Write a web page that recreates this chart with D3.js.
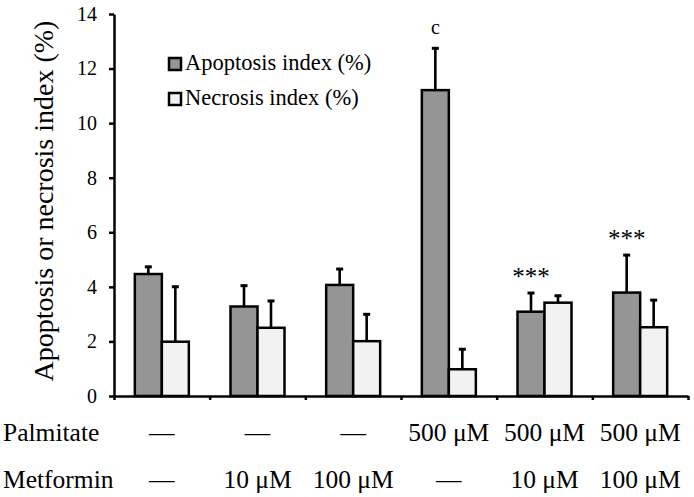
<!DOCTYPE html>
<html>
<head>
<meta charset="utf-8">
<script src="https://cdn.jsdelivr.net/npm/d3@7"></script>
<style>
  body { margin: 0; background: #fff; }
  svg text { font-family: "Liberation Serif", "Times New Roman", serif; fill: #000; }
</style>
</head>
<body>
<div id="svg-container"></div>
<script>
/** Chart data */
const groups = ["g1", "g2", "g3", "g4", "g5", "g6"];
const series = ["Apoptosis index (%)", "Necrosis index (%)"];
const apoptosis = [4.47, 3.28, 4.07, 11.21, 3.09, 3.79];
const apoptosisErr = [0.30, 0.80, 0.62, 1.57, 0.72, 1.41];
const necrosis = [1.99, 2.50, 2.01, 0.98, 3.42, 2.52];
const necrosisErr = [2.05, 1.02, 1.02, 0.77, 0.29, 1.03];
const annotations = ["", "", "", "c", "***", "***"];
const palmitate = ["\u2014", "\u2014", "\u2014", "500 \u03bcM", "500 \u03bcM", "500 \u03bcM"];
const metformin = ["\u2014", "10 \u03bcM", "100 \u03bcM", "\u2014", "10 \u03bcM", "100 \u03bcM"];
const yTicks = [0, 2, 4, 6, 8, 10, 12, 14];

const w = 694, h = 497;
const margin = {top: 14, right: 6, bottom: 101, left: 114};
const width = w - margin.left - margin.right;
const height = h - margin.top - margin.bottom;

const fills = ["#959595", "#f2f2f2"];

const svg = d3.select("#svg-container")
  .append("svg")
  .attr("width", w)
  .attr("height", h);

const g = svg.append("g")
  .attr("transform", "translate(" + margin.left + "," + margin.top + ")");

/** Scales */
const x0 = d3.scaleBand().domain(groups).range([0, width]).padding(0);
const x1 = d3.scaleBand().domain(series).range([0, 54]);
const xb = d3.scaleLinear().domain([0, groups.length]).range([0, width]);
const y = d3.scaleLinear().domain([0, 14]).range([height, 0]);

const rows = groups.map((k, i) => ({
  key: k,
  vals: [
    {s: series[0], v: apoptosis[i], e: apoptosisErr[i], c: fills[0]},
    {s: series[1], v: necrosis[i], e: necrosisErr[i], c: fills[1]}
  ],
  note: annotations[i]
}));

const barX = (gk, s) => x0(gk) + x0.bandwidth() / 2 - 27 + x1(s);

/** Error bars (drawn first so the bar outline sits on top) */
rows.forEach(r => {
  r.vals.forEach(d => {
    const cx = barX(r.key, d.s) + x1.bandwidth() / 2;
    g.append("line")
      .attr("x1", cx).attr("x2", cx)
      .attr("y1", y(d.v)).attr("y2", y(d.v + d.e))
      .attr("stroke", "#000").attr("stroke-width", 2.6);
    g.append("line")
      .attr("x1", cx - 3.5).attr("x2", cx + 3.5)
      .attr("y1", y(d.v + d.e) + 1).attr("y2", y(d.v + d.e) + 1)
      .attr("stroke", "#000").attr("stroke-width", 3);
  });
});

/** Bars */
const grp = g.selectAll("g.grp")
  .data(rows)
  .enter()
  .append("g")
  .attr("class", "grp");

grp.selectAll("rect")
  .data(d => d.vals.map(v => Object.assign({key: d.key}, v)))
  .enter()
  .append("rect")
  .attr("x", d => barX(d.key, d.s))
  .attr("y", d => y(d.v))
  .attr("width", x1.bandwidth())
  .attr("height", d => height - y(d.v))
  .attr("fill", d => d.c)
  .attr("stroke", "#000")
  .attr("stroke-width", 2.5);

/** Significance marks */
rows.forEach(r => {
  if (!r.note) return;
  const d = r.vals[0];
  const cx = barX(r.key, d.s) + x1.bandwidth() / 2;
  g.append("text")
    .attr("x", cx)
    .attr("y", y(d.v + d.e) - (r.note === "c" ? 13 : 7))
    .attr("text-anchor", "middle")
    .style("font-size", r.note === "c" ? "20px" : "25px")
    .text(r.note);
});

/** Axes */
const yAxis = g.append("g")
  .call(d3.axisLeft(y).tickValues(yTicks).tickSize(5).tickPadding(12).tickSizeOuter(0));
yAxis.selectAll("text").style("font-size", "20px");

const xAxis = g.append("g")
  .attr("transform", "translate(0," + height + ")")
  .call(d3.axisBottom(xb).tickValues(d3.range(groups.length + 1)).tickSize(4).tickFormat("").tickSizeOuter(0));

[yAxis, xAxis].forEach(a => {
  a.select(".domain").attr("stroke-width", 2.5).attr("stroke", "#000");
  a.selectAll(".tick line").attr("stroke-width", 2.5).attr("stroke", "#000");
});

/** Y axis label */
svg.append("text")
  .attr("transform", "translate(53," + (margin.top + height / 2 - 4) + ") rotate(-90)")
  .attr("text-anchor", "middle")
  .style("font-size", "28px")
  .text("Apoptosis or necrosis index (%)");

/** Legend */
const legend = svg.append("g").attr("transform", "translate(169,58)");
series.forEach((s, i) => {
  legend.append("rect")
    .attr("x", 0).attr("y", i * 35)
    .attr("width", 12).attr("height", 12)
    .attr("fill", fills[i])
    .attr("stroke", "#000")
    .attr("stroke-width", 2.5);
  legend.append("text")
    .attr("x", 16).attr("y", i * 35 + 12)
    .style("font-size", "22.5px")
    .text(s);
});

/** Treatment table under the axis */
const table = [["Palmitate", palmitate, 441], ["Metformin", metformin, 488]];
table.forEach(([name, vals, yy]) => {
  svg.append("text")
    .attr("x", 3).attr("y", yy)
    .style("font-size", "25.5px")
    .text(name);
  svg.selectAll(null)
    .data(vals)
    .enter()
    .append("text")
    .attr("x", (d, i) => margin.left + x0(groups[i]) + x0.bandwidth() / 2)
    .attr("y", yy)
    .attr("text-anchor", "middle")
    .style("font-size", "25.5px")
    .text(d => d);
});
</script>
</body>
</html>
